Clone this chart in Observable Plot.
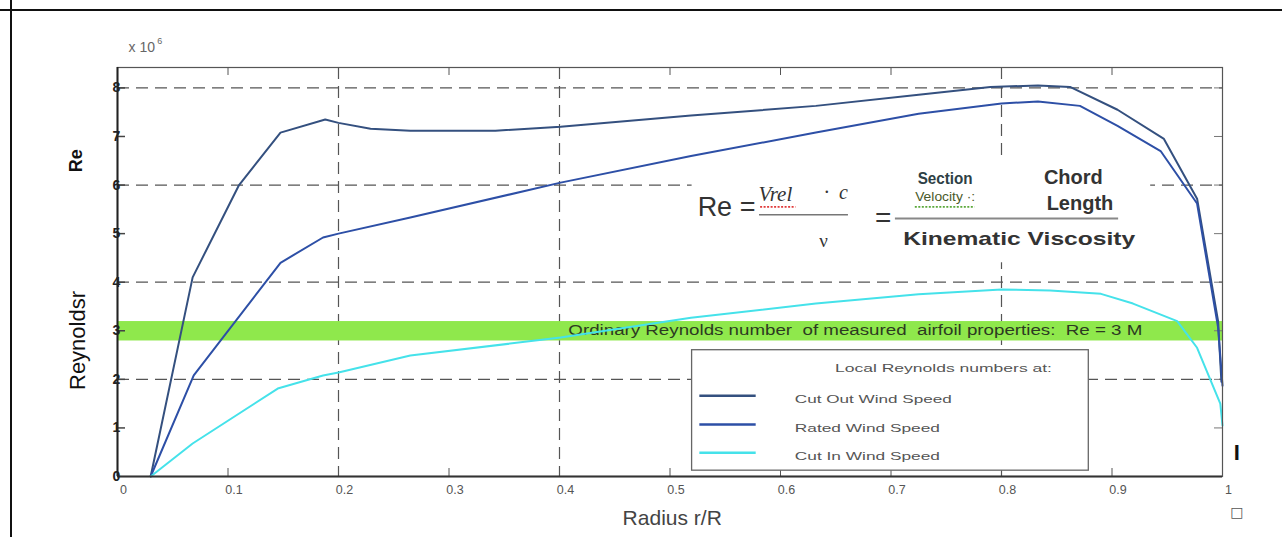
<!DOCTYPE html>
<html><head><meta charset="utf-8">
<script src="https://cdn.jsdelivr.net/npm/d3@7"></script>
<script src="https://cdn.jsdelivr.net/npm/@observablehq/plot@0.6"></script>
<style>
html,body{margin:0;padding:0;background:#fff;}
#wrap{position:relative;width:1282px;height:537px;overflow:hidden;background:#fff;}
#chart{position:absolute;left:0;top:0;}
#hl{position:absolute;left:0;top:9px;width:1282px;height:2px;background:#111;}
#vl{position:absolute;left:10px;top:0;width:2px;height:537px;background:#111;}
</style></head><body>
<div id="wrap"><div id="chart"></div><div id="hl"></div><div id="vl"></div></div>
<script>
// ---- data (Reynolds number in millions vs. relative radius r/R) ----
const seriesNames = ["Cut Out Wind Speed", "Rated Wind Speed", "Cut In Wind Speed"];
const seriesColors = ["#34507f", "#2d4fa6", "#45e2ea"];

const radiusCutOut = [0.030, 0.068, 0.110, 0.1475, 0.188, 0.200, 0.229, 0.265, 0.342, 0.401, 0.519, 0.632, 0.725, 0.790, 0.833, 0.862, 0.905, 0.947, 0.977, 0.996, 0.999];
const reCutOut     = [0, 4.1, 6.0, 7.08, 7.35, 7.28, 7.16, 7.12, 7.12, 7.2, 7.43, 7.63, 7.86, 8.02, 8.05, 8.02, 7.55, 6.95, 5.72, 3.2, 1.95];

const radiusRated = [0.030, 0.069, 0.1475, 0.186, 0.200, 0.265, 0.401, 0.519, 0.632, 0.725, 0.800, 0.833, 0.871, 0.905, 0.944, 0.977, 0.996, 1.0];
const reRated     = [0, 2.08, 4.4, 4.92, 5.0, 5.33, 6.05, 6.6, 7.08, 7.47, 7.68, 7.72, 7.63, 7.22, 6.7, 5.62, 3.07, 1.87];

const radiusCutIn = [0.030, 0.068, 0.145, 0.186, 0.200, 0.265, 0.401, 0.519, 0.632, 0.725, 0.800, 0.844, 0.890, 0.919, 0.959, 0.977, 0.998, 1.0];
const reCutIn     = [0, 0.68, 1.81, 2.08, 2.14, 2.49, 2.86, 3.27, 3.56, 3.75, 3.85, 3.83, 3.76, 3.56, 3.2, 2.65, 1.5, 1.05];

const xTicks = [0, 0.1, 0.2, 0.3, 0.4, 0.5, 0.6, 0.7, 0.8, 0.9, 1];
const yTicks = [0, 1, 2, 3, 4, 5, 6, 7, 8];
const xGrid = [0.2, 0.4, 0.8];
const yGrid = [2, 4, 6, 8];
const referenceRe = 3;
const referenceLabel = "Ordinary Reynolds number  of measured  airfoil properties:  Re = 3 M";
const legendTitle = "Local Reynolds numbers at:";

const series = [
  {name: seriesNames[0], color: seriesColors[0], pts: radiusCutOut.map((r, i) => ({r, re: reCutOut[i]}))},
  {name: seriesNames[1], color: seriesColors[1], pts: radiusRated.map((r, i) => ({r, re: reRated[i]}))},
  {name: seriesNames[2], color: seriesColors[2], pts: radiusCutIn.map((r, i) => ({r, re: reCutIn[i]}))}
];

const F = "Liberation Sans, Arial, sans-serif";
const legendY = [1.66, 1.07, 0.49];

const marks = [
  // grid
  Plot.ruleX(xGrid, {stroke: "#555", strokeWidth: 1.2, strokeDasharray: "12,7"}),
  Plot.ruleY(yGrid, {stroke: "#555", strokeWidth: 1.2, strokeDasharray: "12,7"}),
  // formula box (white, hides grid)
  Plot.rect([0], {x1: 0.52, x2: 0.935, y1: 4.4, y2: 6.56, fill: "white"}),
  // reference band
  Plot.rect([referenceRe], {x1: 0, x2: 1, y1: d => d - 0.21, y2: d => d + 0.19, fill: "#8fe84c"}),
  Plot.text([referenceLabel], {x: 0.408, y: referenceRe, text: d => d, textAnchor: "start", fontSize: 14, fill: "#2c3a22", fontFamily: F, className: "bandtxt"}),
  // inward ticks
  Plot.tickX(xTicks.slice(1, -1), {x: d => d, insetBottom: 401, stroke: "#555"}),
  Plot.tickX(xTicks.slice(1, -1), {x: d => d, insetTop: 401, stroke: "#555"}),
  Plot.tickY(yTicks.slice(1), {y: d => d, insetRight: 1097, stroke: "#444", strokeWidth: 1.5}),
  Plot.tickY(yTicks.slice(1), {y: d => d, insetLeft: 1097, stroke: "#777"}),
  // series lines
  ...series.map(s => Plot.line(s.pts, {x: "r", y: "re", stroke: s.color, strokeWidth: 2})),
  // legend
  Plot.rect([0], {x1: 0.52, x2: 0.879, y1: 0.12, y2: 2.6, fill: "white", stroke: "#666", strokeWidth: 1.3}),
  Plot.text([legendTitle], {x: 0.7475, y: 2.22, text: d => d, fontSize: 10.5, fill: "#555", fontFamily: F, className: "legtitle"}),
  ...series.map((s, i) => Plot.ruleY([legendY[i]], {x1: 0.527, x2: 0.578, stroke: s.color, strokeWidth: 2.5})),
  ...series.map((s, i) => Plot.text([s.name], {x: 0.613, y: legendY[i] - 0.08, text: d => d, textAnchor: "start", fontSize: 10.5, fill: "#555", fontFamily: F, className: "leg" + i})),
  // box
  Plot.frame({stroke: "#555", strokeWidth: 1.2}),
  Plot.ruleX([0], {stroke: "#222", strokeWidth: 2}),
  Plot.ruleY([0], {stroke: "#333", strokeWidth: 2}),
  // formula
  Plot.text(["Re ="], {x: 0.525, y: 5.55, text: d => d, textAnchor: "start", fontSize: 27, fill: "#333", fontFamily: F}),
  Plot.text(["Vrel"], {x: 0.580, y: 5.82, text: d => d, textAnchor: "start", fontSize: 21, fontStyle: "italic", fill: "#333", fontFamily: "Liberation Serif, serif"}),
  Plot.ruleY([5.55], {x1: 0.582, x2: 0.614, stroke: "#e03a3a", strokeWidth: 1.8, strokeDasharray: "2,1.5"}),
  Plot.text(["·  c"], {x: 0.661, y: 5.84, text: d => d, textAnchor: "end", fontSize: 20, fontStyle: "italic", fill: "#333", fontFamily: "Liberation Serif, serif"}),
  Plot.ruleY([5.39], {x1: 0.581, x2: 0.6615, stroke: "#777", strokeWidth: 1.5}),
  Plot.text(["ν"], {x: 0.639, y: 4.86, text: d => d, fontSize: 19, fill: "#333", fontFamily: "Liberation Serif, serif"}),
  Plot.text(["="], {x: 0.693, y: 5.33, text: d => d, fontSize: 28, fill: "#333", fontFamily: F}),
  Plot.text(["Section"], {x: 0.749, y: 6.13, text: d => d, fontSize: 16, fontWeight: "bold", fill: "#2e3f45", fontFamily: F, className: "section"}),
  Plot.text(["Velocity ·:"], {x: 0.749, y: 5.75, text: d => d, fontSize: 13, fill: "#4a5a2a", fontFamily: F, className: "velo"}),
  Plot.ruleY([5.55], {x1: 0.722, x2: 0.776, stroke: "#5aa83a", strokeWidth: 1.6, strokeDasharray: "2,1.5"}),
  Plot.text(["Chord"], {x: 0.865, y: 6.15, text: d => d, fontSize: 20, fontWeight: "bold", fill: "#333", fontFamily: F}),
  Plot.text(["Length"], {x: 0.871, y: 5.62, text: d => d, fontSize: 20, fontWeight: "bold", fill: "#333", fontFamily: F}),
  Plot.ruleY([5.31], {x1: 0.704, x2: 0.906, stroke: "#888", strokeWidth: 2}),
  Plot.text(["Kinematic Viscosity"], {x: 0.816, y: 4.88, text: d => d, fontSize: 18.5, fontWeight: "bold", fill: "#333", fontFamily: F, className: "kin"}),
  // axes
  Plot.axisY({ticks: yTicks, tickSize: 0, tickPadding: 0, textAnchor: "middle", dx: -1, fontSize: 14, fontWeight: "bold", fill: "#222", fontFamily: F, label: null, className: "yax"}),
  Plot.axisX({ticks: xTicks, tickSize: 0, tickPadding: 9, dx: 6, fontSize: 12.5, fill: "#555", fontFamily: F, label: null, tickFormat: d => String(+d.toFixed(1))}),
  // outer labels
  Plot.text(["x 10"], {x: 0.010, y: 8.83, text: d => d, textAnchor: "start", fontSize: 14, fill: "#666", fontFamily: F}),
  Plot.text(["6"], {x: 0.036, y: 8.96, text: d => d, textAnchor: "start", fontSize: 9, fill: "#666", fontFamily: F}),
  Plot.text(["Re"], {x: -0.037, y: 6.5, text: d => d, rotate: -90, fontSize: 18, fontWeight: "bold", fill: "#111", fontFamily: F}),
  Plot.text(["Reynoldsr"], {x: -0.036, y: 2.8, text: d => d, rotate: -90, fontSize: 22, fill: "#111", fontFamily: F}),
  Plot.text(["Radius r/R"], {x: 0.502, y: -0.86, text: d => d, fontSize: 21, fill: "#444", fontFamily: F}),
  Plot.text(["I"], {x: 1.013, y: 0.49, text: d => d, fontSize: 22, fontWeight: "bold", fill: "#111", fontFamily: F}),
  Plot.text(["□"], {x: 1.013, y: -0.74, text: d => d, fontSize: 14, fill: "#555", fontFamily: "DejaVu Sans, sans-serif"})
];

const chart = Plot.plot({
  width: 1282, height: 537,
  marginLeft: 117, marginRight: 60, marginTop: 67, marginBottom: 61,
  x: {domain: [0, 1]},
  y: {domain: [0, 8.42]},
  style: {background: "transparent", fontFamily: F},
  marks
});
document.getElementById("chart").appendChild(chart);

// stretch some texts to the widths seen in the reference
const fits = [["bandtxt", 574], ["legtitle", 217], ["leg0", 157], ["leg1", 145], ["leg2", 145], ["kin", 232], ["section", 55], ["velo", 60]];
for (const [cls, len] of fits) {
  d3.select(chart).selectAll("." + cls + " text").attr("textLength", len).attr("lengthAdjust", "spacingAndGlyphs");
}
d3.select(chart).selectAll(".yax text").attr("font-size", 14).attr("font-weight", "bold");
</script>
</body></html>
